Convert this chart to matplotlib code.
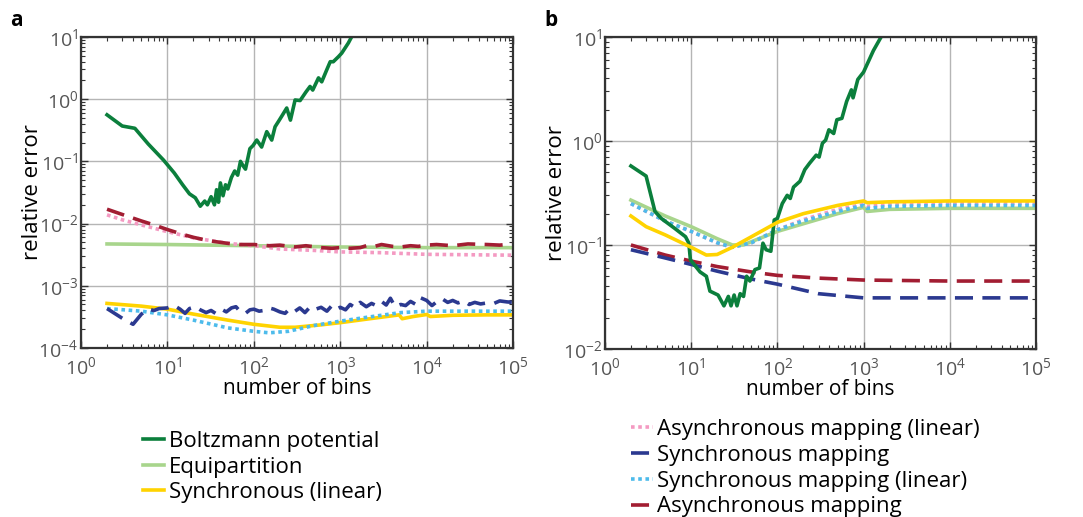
import matplotlib
matplotlib.use("Agg")
import matplotlib.pyplot as plt
from matplotlib.lines import Line2D

plt.rcParams['font.family'] = ['Open Sans', 'DejaVu Sans']
plt.rcParams['mathtext.fontset'] = 'custom'
plt.rcParams['mathtext.rm'] = 'Liberation Sans'
plt.rcParams['mathtext.it'] = 'Liberation Sans'

# ---- panel a data ----
aBoltzX = [2, 3, 4.2, 6, 9, 12, 15, 18, 21, 24, 27, 29, 32, 35, 37, 39, 41, 44, 47, 50, 55, 60, 65, 70, 75,
           80, 90, 98, 108, 123, 141, 161, 176, 195, 215, 240, 265, 300, 343, 400, 447, 480, 560, 610, 700,
           765, 830, 950, 1040, 1240, 1400]
aBoltzY = [0.56, 0.37, 0.34, 0.19, 0.105, 0.065, 0.042, 0.030, 0.026, 0.019, 0.023, 0.020, 0.027, 0.020, 0.035,
           0.022, 0.045, 0.028, 0.042, 0.036, 0.055, 0.07, 0.06, 0.10, 0.085, 0.075, 0.16, 0.18, 0.22, 0.17, 0.30,
           0.22, 0.36, 0.45, 0.56, 0.72, 0.46, 0.97, 0.95, 1.3, 1.6, 1.4, 2.2, 1.9, 3.0, 4.0, 4.0, 4.8, 5.5, 8.0,
           11]

aEquiX = [2, 10, 100, 1000, 1e4, 1e5]
aEquiY = [0.0047, 0.0046, 0.0044, 0.0042, 0.0041, 0.0041]

aSyncLinX = [2, 5, 10, 20, 50, 100, 200, 300, 600, 1000, 2000, 4800, 5200, 7000, 1e4, 1.1e4, 2e4, 5e4, 1e5]
aSyncLinY = [5.2e-4, 4.7e-4, 4.2e-4, 3.5e-4, 2.8e-4, 2.4e-4, 2.15e-4, 2.15e-4, 2.35e-4, 2.55e-4, 2.9e-4,
             3.4e-4, 2.95e-4, 3.2e-4, 3.45e-4, 3.2e-4, 3.35e-4, 3.4e-4, 3.4e-4]

aAsyncLinX = [2, 3, 5, 10, 20, 50, 100, 200, 500, 1000, 3000, 1e4, 1e5]
aAsyncLinY = [0.0138, 0.0115, 0.0095, 0.0074, 0.0059, 0.0048, 0.0044, 0.0039, 0.0037, 0.0035, 0.0034,
              0.0032, 0.0031]

aSyncMapX = [2, 3, 4, 5, 6, 7, 8, 10, 12, 14, 16, 18, 21, 24, 28, 32, 36, 42, 48, 55, 62, 70, 80, 90, 100,
             115, 130, 150, 170, 200, 230, 260, 300, 340, 390, 450, 520, 600, 700, 800, 900, 1000, 1150, 1300,
             1500, 1700, 2000, 2300, 2600, 3000, 3400, 3800, 4300, 5000, 5700, 6500, 7500, 8500, 1e4, 1.15e4,
             1.3e4, 1.5e4, 1.75e4, 2e4, 2.3e4, 2.7e4, 3.1e4, 3.6e4, 4.2e4, 5e4, 6e4, 7e4, 8.5e4, 1e5]
aSyncMapY = [4.3e-4, 3.0e-4, 2.4e-4, 3.5e-4, 4.2e-4, 4.0e-4, 4.3e-4, 4.4e-4, 4.8e-4, 4.2e-4, 3.6e-4, 4.3e-4,
             4.6e-4, 4.1e-4, 3.7e-4, 4.0e-4, 3.6e-4, 4.2e-4, 3.8e-4, 4.4e-4, 4.6e-4, 3.8e-4, 3.6e-4, 4.1e-4,
             4.2e-4, 3.9e-4, 4.0e-4, 4.4e-4, 4.2e-4, 3.8e-4, 3.6e-4, 4.3e-4, 3.9e-4, 4.4e-4, 3.7e-4, 4.6e-4,
             4.2e-4, 4.5e-4, 3.9e-4, 4.8e-4, 4.2e-4, 4.5e-4, 4.1e-4, 5.0e-4, 4.4e-4, 5.4e-4, 4.6e-4, 5.2e-4,
             4.8e-4, 5.6e-4, 4.9e-4, 6.3e-4, 4.6e-4, 5.0e-4, 4.8e-4, 5.6e-4, 5.0e-4, 6.4e-4, 5.8e-4, 4.8e-4,
             5.5e-4, 6.2e-4, 5.4e-4, 5.8e-4, 5.3e-4, 5.7e-4, 5.0e-4, 5.4e-4, 5.1e-4, 5.3e-4, 5.2e-4, 5.7e-4,
             5.5e-4, 5.4e-4]

aSyncMapLinX = [2, 5, 10, 20, 50, 100, 150, 250, 500, 1000, 2000, 5000, 1e4, 1e5]
aSyncMapLinY = [4.3e-4, 3.9e-4, 3.4e-4, 2.8e-4, 2.1e-4, 1.85e-4, 1.75e-4, 1.85e-4, 2.3e-4, 2.7e-4, 3.1e-4,
                3.7e-4, 3.9e-4, 3.9e-4]

aAsyncMapX = [2, 3, 5, 7, 10, 15, 20, 30, 50, 70, 100, 150, 200, 300, 400, 600, 800, 1000, 1300, 1700, 2000,
              2500, 3000, 4000, 5000, 6500, 8000, 1e4, 1.3e4, 2e4, 3e4, 5e4, 7e4, 1e5]
aAsyncMapY = [0.017, 0.014, 0.011, 0.0095, 0.0080, 0.0067, 0.0060, 0.0053, 0.0048, 0.0046, 0.0046, 0.0044,
              0.0045, 0.0042, 0.0044, 0.0041, 0.0040, 0.0041, 0.0040, 0.0041, 0.0044, 0.0043, 0.0046, 0.0043,
              0.0042, 0.0044, 0.0043, 0.0045, 0.0046, 0.0044, 0.0047, 0.0046, 0.0045, 0.0047]

# ---- panel b data ----
bBoltzX = [2, 3, 3.8, 4.5, 6.4, 8.6, 9.4, 9.8, 12.7, 15, 16.5, 20.5, 24, 27, 29, 31.5, 34, 37, 40.5, 44, 48,
           55, 62, 68, 74, 84, 92, 100, 114, 130, 141, 154, 183, 208, 236, 282, 305, 333, 363, 396, 450, 490,
           560, 636, 722, 755, 857, 1000, 1300, 1650]
bBoltzY = [0.575, 0.46, 0.21, 0.18, 0.145, 0.12, 0.104, 0.072, 0.055, 0.05, 0.036, 0.033, 0.026, 0.032, 0.026,
           0.033, 0.026, 0.034, 0.032, 0.05, 0.045, 0.058, 0.060, 0.104, 0.09, 0.087, 0.174, 0.18, 0.25, 0.30,
           0.28, 0.36, 0.41, 0.53, 0.61, 0.73, 0.70, 0.95, 1.02, 1.28, 1.18, 1.6, 1.65, 2.4, 3.1, 2.6, 3.9, 4.6,
           7.4, 10.5]

bEquiX = [2, 5, 10, 20, 30, 40, 100, 200, 500, 1000, 1100, 2000, 1e4, 1e5]
bEquiY = [0.27, 0.19, 0.15, 0.115, 0.10, 0.10, 0.135, 0.16, 0.20, 0.23, 0.21, 0.22, 0.225, 0.225]

bSyncLinX = [2, 3, 5, 10, 15, 20, 30, 50, 100, 200, 500, 1000, 1100, 2000, 1e4, 1e5]
bSyncLinY = [0.19, 0.15, 0.125, 0.095, 0.08, 0.081, 0.095, 0.12, 0.165, 0.20, 0.24, 0.265, 0.255, 0.26,
             0.265, 0.265]

bAsyncLinX = [2, 5, 10, 20, 30, 50, 100, 200, 500, 1000, 1100, 2000, 1e4, 1e5]
bAsyncLinY = [0.25, 0.17, 0.135, 0.105, 0.095, 0.105, 0.14, 0.175, 0.22, 0.245, 0.235, 0.245, 0.25, 0.25]

bSyncMapX = [2, 5, 10, 20, 50, 100, 300, 1000, 3000, 1e4, 1e5]
bSyncMapY = [0.09, 0.075, 0.065, 0.056, 0.047, 0.042, 0.034, 0.031, 0.031, 0.031, 0.031]

bSyncMapLinX = [2, 5, 10, 20, 30, 50, 100, 200, 500, 1000, 1100, 2000, 1e4, 1e5]
bSyncMapLinY = [0.25, 0.17, 0.135, 0.105, 0.095, 0.105, 0.14, 0.17, 0.21, 0.24, 0.225, 0.235, 0.24, 0.24]

bAsyncMapX = [2, 5, 10, 20, 50, 100, 300, 1000, 1e4, 1e5]
bAsyncMapY = [0.10, 0.08, 0.07, 0.062, 0.055, 0.051, 0.048, 0.046, 0.045, 0.045]

labels = ["Boltzmann potential", "Equipartition", "Synchronous (linear)",
          "Asynchronous mapping (linear)", "Synchronous mapping",
          "Synchronous mapping (linear)", "Asynchronous mapping"]

cBoltz = "#0b7f3c"
cEqui = "#a8d58c"
cSyncLin = "#ffd300"
cAsyncLin = "#f49ac2"
cSyncMap = "#2b3990"
cSyncMapLin = "#4dbbeb"
cAsyncMap = "#a21d32"

lw = 2.6
dash = (5, 2.6)
dot = (1, 1)

fig = plt.figure(figsize=(10.83, 5.17), dpi=100)
axA = fig.add_axes([0.0748, 0.327, 0.399, 0.6015])
axB = fig.add_axes([0.5586, 0.325, 0.398, 0.6035])


def styleAxis(ax, ymin, ymax):
    ax.set_xscale("log")
    ax.set_yscale("log")
    ax.set_xlim(1, 1e5)
    ax.set_ylim(ymin, ymax)
    ax.grid(True, which="major", color="#b5b5b5", linewidth=1.0)
    ax.tick_params(which="both", direction="in", top=True, right=True, color="#333333")
    ax.tick_params(which="major", length=5, width=1.0, labelsize=14, labelcolor="#555555")
    ax.tick_params(axis="x", which="major", pad=6)
    ax.tick_params(axis="y", which="major", pad=2)
    ax.tick_params(which="minor", length=3, width=0.8)
    for s in ax.spines.values():
        s.set_color("#333333")
        s.set_linewidth(1.6)
    ax.set_xlabel("number of bins", fontsize=15, labelpad=0)
    ax.set_ylabel("relative error", fontsize=16, labelpad=-3)


# panel a
axA.plot(aBoltzX, aBoltzY, color=cBoltz, lw=lw)
axA.plot(aEquiX, aEquiY, color=cEqui, lw=lw)
axA.plot(aAsyncLinX, aAsyncLinY, color=cAsyncLin, lw=lw, dashes=dot)
axA.plot(aAsyncMapX, aAsyncMapY, color=cAsyncMap, lw=lw, dashes=dash)
axA.plot(aSyncLinX, aSyncLinY, color=cSyncLin, lw=lw)
axA.plot(aSyncMapLinX, aSyncMapLinY, color=cSyncMapLin, lw=lw, dashes=dot)
axA.plot(aSyncMapX, aSyncMapY, color=cSyncMap, lw=lw, dashes=dash)
styleAxis(axA, 1e-4, 10)

# panel b
axB.plot(bAsyncLinX, bAsyncLinY, color=cAsyncLin, lw=lw, dashes=dot)
axB.plot(bEquiX, bEquiY, color=cEqui, lw=lw)
axB.plot(bSyncMapLinX, bSyncMapLinY, color=cSyncMapLin, lw=lw, dashes=dot)
axB.plot(bAsyncMapX, bAsyncMapY, color=cAsyncMap, lw=lw, dashes=dash)
axB.plot(bSyncMapX, bSyncMapY, color=cSyncMap, lw=lw, dashes=dash)
axB.plot(bBoltzX, bBoltzY, color=cBoltz, lw=lw)
axB.plot(bSyncLinX, bSyncLinY, color=cSyncLin, lw=lw)
styleAxis(axB, 1e-2, 10)

fig.text(0.009, 0.961, "a", fontsize=15, fontweight="bold", va="center")
fig.text(0.503, 0.961, "b", fontsize=15, fontweight="bold", va="center")

# legends under each panel
hA = [Line2D([], [], color=cBoltz, lw=lw),
      Line2D([], [], color=cEqui, lw=lw),
      Line2D([], [], color=cSyncLin, lw=lw)]
hB = [Line2D([], [], color=cAsyncLin, lw=lw, dashes=dot),
      Line2D([], [], color=cSyncMap, lw=lw, dashes=dash),
      Line2D([], [], color=cSyncMapLin, lw=lw, dashes=dot),
      Line2D([], [], color=cAsyncMap, lw=lw, dashes=dash)]
fig.legend(hA, labels[:3], loc="upper left", bbox_to_anchor=(0.132, 0.166), frameon=False,
           fontsize=16, handlelength=0.95, handletextpad=0.22, labelspacing=0.2,
           borderpad=0, borderaxespad=0)
fig.legend(hB, labels[3:], loc="upper left", bbox_to_anchor=(0.583, 0.19), frameon=False,
           fontsize=16, handlelength=0.95, handletextpad=0.22, labelspacing=0.22,
           borderpad=0, borderaxespad=0)

fig.savefig("out.png", dpi=100)
